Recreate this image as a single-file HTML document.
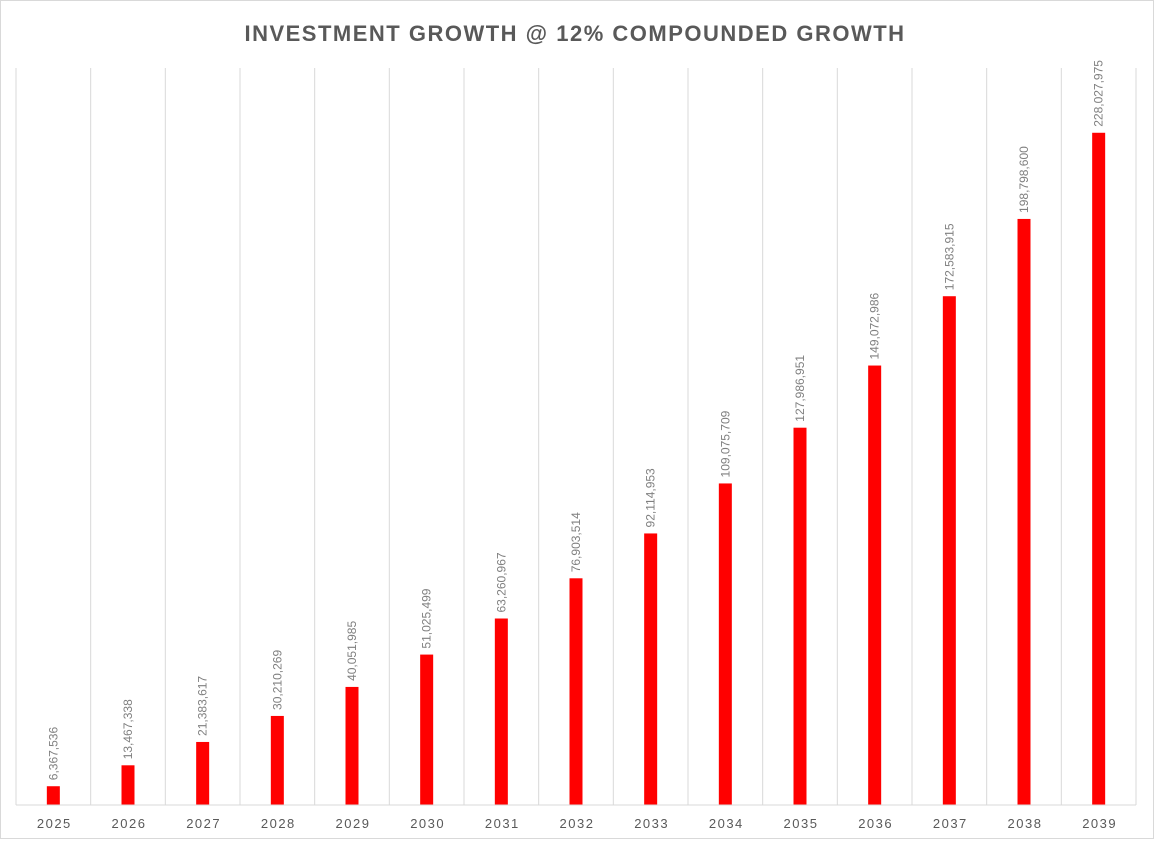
<!DOCTYPE html>
<html><head><meta charset="utf-8"><style>
html,body{margin:0;padding:0;background:#fff;}
#wrap{position:relative;width:1158px;height:840px;}
</style></head><body>
<div id="wrap">
<svg id="chart" width="1158" height="840" xmlns="http://www.w3.org/2000/svg">
<rect x="0.5" y="0.5" width="1153" height="838" fill="#fff" stroke="#d9d9d9"/>
<text x="575" y="41" text-anchor="middle" font-family="Liberation Sans, sans-serif" font-size="22" font-weight="bold" fill="#595959" letter-spacing="1.5">INVESTMENT GROWTH @ 12% COMPOUNDED GROWTH</text>
<g id="grid"></g><g id="bars"></g><g id="labels"></g><g id="xaxis"></g>
</svg>
</div>
<script>
const categories = ["2025","2026","2027","2028","2029","2030","2031","2032","2033","2034","2035","2036","2037","2038","2039"];
const values = [6367536,13467338,21383617,30210269,40051985,51025499,63260967,76903514,92114953,109075709,127986951,149072986,172583915,198798600,228027975];
const yMax = 250000000;
const NS="http://www.w3.org/2000/svg";
const L=16,R=1136,T=68,B=805;
const band=(R-L)/categories.length;
const x=i=>L+band*i;
const y=v=>B-(v/yMax)*(B-T);
const fmt=v=>v.toLocaleString('en-US');
const g=document.getElementById('grid'),bg=document.getElementById('bars'),lg=document.getElementById('labels'),xg=document.getElementById('xaxis');
for(let i=0;i<=categories.length;i++){
  const ln=document.createElementNS(NS,'line');
  
  
  ln.setAttribute('x1',x(i));ln.setAttribute('x2',x(i));ln.setAttribute('y1',T);ln.setAttribute('y2',B);
  ln.setAttribute('stroke','#d9d9d9');ln.setAttribute('stroke-width','1');
  g.appendChild(ln);
}
const ax=document.createElementNS(NS,'line');


ax.setAttribute('x1',L);ax.setAttribute('x2',R);ax.setAttribute('y1',B);ax.setAttribute('y2',B);ax.setAttribute('stroke','#d9d9d9');
xg.appendChild(ax);
categories.forEach((c,i)=>{
  const cx=x(i)+band/2, v=values[i], top=y(v);
  const r=document.createElementNS(NS,'rect');
  
  
  r.setAttribute('x',cx-6.5);r.setAttribute('width',13);r.setAttribute('y',top);r.setAttribute('height',B-top);r.setAttribute('fill','#ff0000');
  bg.appendChild(r);
  const t=document.createElementNS(NS,'text');
  
  
  t.setAttribute('transform','translate('+(cx+4)+','+(top-6)+') rotate(-90)');
  t.setAttribute('font-family','Liberation Sans, sans-serif');t.setAttribute('font-size','12');t.setAttribute('fill','#7f7f7f');
  t.textContent=fmt(v);
  lg.appendChild(t);
  const ct=document.createElementNS(NS,'text');
  
  
  ct.setAttribute('x',cx+1);ct.setAttribute('y',828);ct.setAttribute('text-anchor','middle');
  ct.setAttribute('font-family','Liberation Sans, sans-serif');ct.setAttribute('font-size','13');ct.setAttribute('fill','#595959');ct.setAttribute('letter-spacing','1.5');
  ct.textContent=c;
  xg.appendChild(ct);
});
</script>
</body></html>
